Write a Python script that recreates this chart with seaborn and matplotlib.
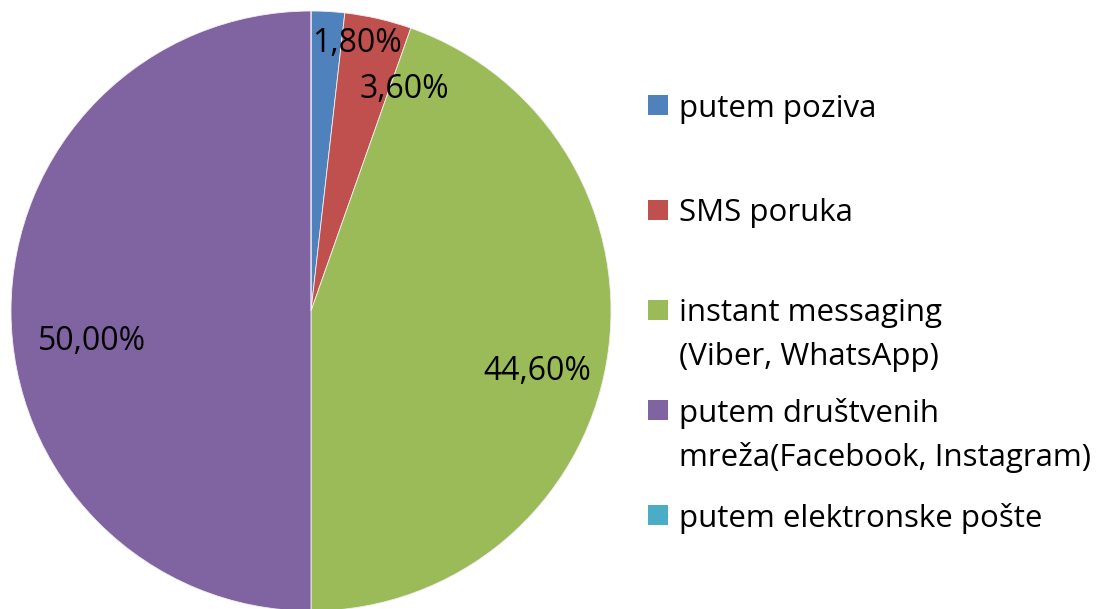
import matplotlib
matplotlib.use("Agg")
import matplotlib.pyplot as plt
import seaborn as sns
from matplotlib.patches import Rectangle

sns.set_theme(style="white")
plt.rcParams['font.family'] = ['Open Sans', 'DejaVu Sans']

categories = ["putem poziva", "SMS poruka", "instant messaging\n(Viber, WhatsApp)",
              "putem društvenih\nmreža(Facebook, Instagram)", "putem elektronske pošte"]
values = [1.8, 3.6, 44.6, 50.0, 0.0]
value_labels = ["1,80%", "3,60%", "44,60%", "50,00%", ""]
colors = ["#4F81BD", "#C0504D", "#9BBB59", "#8064A2", "#4BACC6"]

W, H = 1105, 609
fig = plt.figure(figsize=(W / 100, H / 100), dpi=100)
ax = fig.add_axes([11 / W, -2 / H, 600 / W, 600 / H])
wedges, _ = ax.pie(values, colors=colors, startangle=90, counterclock=False,
                   wedgeprops=dict(edgecolor="#f0f0f0", linewidth=0.6))
ax.set_aspect("equal")
ax.set_xlim(-1, 1)
ax.set_ylim(-1, 1)

label_pos = [(0.153, 0.893), (0.31, 0.737), (0.753, -0.203), (-0.73, -0.103)]
for (x, y), lab in zip(label_pos, value_labels):
    ax.text(x, y, lab, ha="center", va="center", fontsize=23, fontweight=500, color="black")

# legend (drawn manually to match the original uneven spacing)
entry_y = [105, 210, 310, 410, 515]  # pixel centre of the first line of each entry
line_gap = 44
for y, c, lab in zip(entry_y, colors, categories):
    fig.patches.append(Rectangle((648 / W, 1 - (y + 10) / H), 20 / W, 20 / H,
                                 transform=fig.transFigure, facecolor=c, edgecolor="none"))
    for i, line in enumerate(lab.split("\n")):
        fig.text(679 / W, 1 - (y + i * line_gap) / H, line, ha="left", va="center_baseline",
                 fontsize=22.5, fontweight=500, color="black")
fig.savefig("out.png", dpi=100)
